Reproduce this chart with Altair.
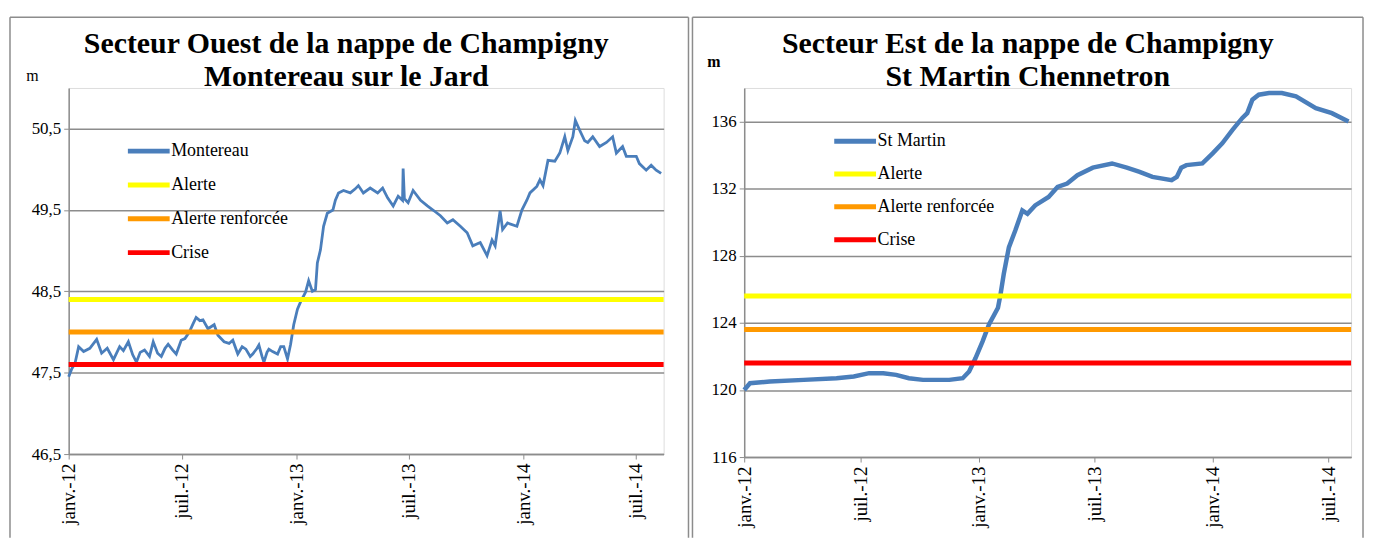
import altair as alt
import pandas as pd

# ---------------- data ----------------
ouest_dates = [
    "2012-01-01", "2012-01-06", "2012-01-11", "2012-01-17", "2012-01-25", "2012-02-04", "2012-02-15", "2012-02-23",
    "2012-03-03", "2012-03-13", "2012-03-23", "2012-03-29", "2012-04-06", "2012-04-13", "2012-04-19", "2012-04-25",
    "2012-05-02", "2012-05-10", "2012-05-16", "2012-05-23", "2012-05-29", "2012-06-04", "2012-06-09", "2012-06-16",
    "2012-06-22", "2012-06-30", "2012-07-06", "2012-07-13", "2012-07-19", "2012-07-24", "2012-07-30", "2012-08-04",
    "2012-08-12", "2012-08-22", "2012-08-28", "2012-09-07", "2012-09-15", "2012-09-21", "2012-09-29", "2012-10-06",
    "2012-10-12", "2012-10-19", "2012-10-23", "2012-10-30", "2012-11-02", "2012-11-07", "2012-11-10", "2012-11-15",
    "2012-11-18", "2012-11-24", "2012-12-02", "2012-12-07", "2012-12-12", "2012-12-18", "2012-12-23", "2012-12-28",
    "2013-01-03", "2013-01-08", "2013-01-16", "2013-01-21", "2013-01-27", "2013-02-01", "2013-02-04", "2013-02-09",
    "2013-02-14", "2013-02-20", "2013-03-01", "2013-03-05", "2013-03-10", "2013-03-18", "2013-03-29", "2013-04-06",
    "2013-04-11", "2013-04-19", "2013-04-30", "2013-05-12", "2013-05-20", "2013-05-28", "2013-06-06", "2013-06-14",
    "2013-06-21", "2013-06-22", "2013-06-24", "2013-06-30", "2013-07-08", "2013-07-20", "2013-07-31", "2013-08-09",
    "2013-08-21", "2013-09-01", "2013-09-10", "2013-09-22", "2013-10-03", "2013-10-12", "2013-10-24", "2013-11-04",
    "2013-11-12", "2013-11-17", "2013-11-25", "2013-11-29", "2013-12-07", "2013-12-22", "2013-12-30",
    "2014-01-07", "2014-01-12", "2014-01-23", "2014-01-28", "2014-02-02", "2014-02-10", "2014-02-21", "2014-03-01",
    "2014-03-09", "2014-03-14", "2014-03-22", "2014-03-26", "2014-04-02", "2014-04-10", "2014-04-15", "2014-04-23",
    "2014-05-04", "2014-05-15", "2014-05-25", "2014-05-31", "2014-06-10", "2014-06-16", "2014-07-02", "2014-07-07",
    "2014-07-18", "2014-07-26", "2014-08-03", "2014-08-11",
]
ouest_values = [
    47.45, 47.55, 47.61, 47.82, 47.76, 47.80, 47.91, 47.74,
    47.80, 47.66, 47.82, 47.77, 47.88, 47.72, 47.63, 47.75,
    47.78, 47.70, 47.88, 47.74, 47.70, 47.80, 47.85, 47.78,
    47.73, 47.90, 47.92, 48.00, 48.10, 48.18, 48.14, 48.15,
    48.04, 48.09, 47.96, 47.88, 47.86, 47.90, 47.73, 47.82,
    47.79, 47.70, 47.73, 47.80, 47.84, 47.70, 47.63, 47.75,
    47.79, 47.76, 47.73, 47.82, 47.82, 47.67, 47.85, 48.09,
    48.28, 48.37, 48.49, 48.63, 48.50, 48.52, 48.85, 49.01,
    49.30, 49.46, 49.50, 49.62, 49.71, 49.74, 49.71, 49.76,
    49.80, 49.71, 49.77, 49.71, 49.77, 49.65, 49.55, 49.67,
    49.62, 50.01, 49.64, 49.59, 49.74, 49.62, 49.55, 49.50,
    49.43, 49.34, 49.38, 49.30, 49.22, 49.06, 49.10, 48.94,
    49.13, 49.06, 49.49, 49.26, 49.34, 49.30, 49.50,
    49.62, 49.71, 49.79, 49.87, 49.80, 50.11, 50.10, 50.20,
    50.40, 50.23, 50.40, 50.60, 50.48, 50.35, 50.33, 50.40,
    50.28, 50.33, 50.40, 50.20, 50.28, 50.16, 50.16, 50.07,
    49.99, 50.05, 49.99, 49.95,
]

est_dates = [
    "2012-01-01", "2012-01-10", "2012-02-10", "2012-04-03", "2012-05-24", "2012-06-20", "2012-07-14", "2012-08-05",
    "2012-08-25", "2012-09-14", "2012-10-06", "2012-11-16", "2012-12-07", "2012-12-17", "2012-12-27",
    "2013-01-07", "2013-01-17", "2013-01-31", "2013-02-04", "2013-02-09", "2013-02-17", "2013-02-27", "2013-03-10",
    "2013-03-18", "2013-03-30", "2013-04-20", "2013-05-04", "2013-05-19", "2013-06-04", "2013-06-28", "2013-07-28",
    "2013-08-20", "2013-09-09", "2013-09-29", "2013-10-29", "2013-11-06", "2013-11-13", "2013-11-21", "2013-12-16",
    "2014-01-01", "2014-01-16", "2014-02-01", "2014-02-16", "2014-02-24", "2014-03-04", "2014-03-14", "2014-03-30",
    "2014-04-19", "2014-05-11", "2014-06-11", "2014-07-06", "2014-08-01",
]
est_values = [
    120.0, 120.4, 120.5, 120.6, 120.7, 120.8, 121.0, 121.0,
    120.9, 120.7, 120.6, 120.6, 120.7, 121.1, 121.9,
    122.9, 123.9, 124.9, 125.7, 126.9, 128.5, 129.5, 130.7,
    130.5, 131.0, 131.5, 132.1, 132.3, 132.8, 133.25, 133.5,
    133.25, 133.0, 132.7, 132.5, 132.7, 133.25, 133.4, 133.5,
    134.1, 134.7, 135.5, 136.2, 136.5, 137.3, 137.6, 137.7,
    137.7, 137.5, 136.8, 136.5, 136.0,
]

seuil_names = ["Alerte", "Alerte renforcée", "Crise"]
ouest_seuils = [48.4, 48.0, 47.6]
est_seuils = [125.6, 123.6, 121.6]

ouest_yticks = [46.5, 47.5, 48.5, 49.5, 50.5]
est_yticks = [116, 120, 124, 128, 132, 136]
tick_dates = ["2012-01-01", "2012-07-01", "2013-01-01", "2013-07-01", "2014-01-01", "2014-07-01"]

# ---------------- style ----------------
FONT = "Liberation Serif"
BLUE = "#4A7EBB"
YELLOW = "#FFFF00"
ORANGE = "#FF9900"
RED = "#FF0000"
GRID = "#8C8C8C"
FRAME = "#8C8C8C"


def ms(d):
    return int(pd.Timestamp(d, tz="UTC").value // 10**6)


def panel(dates, values, name, seuils, ydom, yticks, ylabel_expr, titles, width, height,
          frame, leg, line_w, unit, xend, title_dx):
    df = pd.DataFrame({"date": dates, "niveau": values, "serie": name})
    sdf = pd.DataFrame({"serie": seuil_names, "niveau": seuils})

    color = alt.Color(
        "serie:N",
        scale=alt.Scale(domain=[name] + seuil_names, range=[BLUE, YELLOW, ORANGE, RED]),
        legend=alt.Legend(
            title=None, orient="none", legendX=leg[0], legendY=leg[1],
            symbolType="M-2.1,0H2.1", symbolSize=400, symbolStrokeWidth=5,
            labelFont=FONT, labelFontSize=18, labelColor="black", labelOffset=10,
            rowPadding=leg[2], labelLimit=400, padding=0,
        ),
    )
    x = alt.X(
        "date:T",
        scale=alt.Scale(type="utc", domain=[ms("2012-01-01"), ms(xend)]),
        axis=alt.Axis(
            values=[ms(d) for d in tick_dates],
            labelExpr="(utcmonth(datum.value) == 0 ? 'janv.-' : 'juil.-') + utcFormat(datum.value, '%y')",
            labelAngle=270, labelAlign="right", labelBaseline="middle",
            labelFont=FONT, labelFontSize=19, labelColor="black", labelPadding=4,
            labelOverlap=False, labelFlush=False,
            grid=False, tickSize=5, tickColor=GRID, domainColor=GRID, domainWidth=1.5,
            title=None,
        ),
    )
    y = alt.Y(
        "niveau:Q",
        scale=alt.Scale(domain=ydom, nice=False, zero=False),
        axis=alt.Axis(
            values=yticks, labelExpr=ylabel_expr,
            labelFont=FONT, labelFontSize=17, labelColor="black", labelPadding=3,
            grid=True, gridColor=GRID, gridWidth=1.5,
            tickSize=5, tickColor=GRID, domainColor=GRID, domainWidth=1.5,
            title="m", titleAngle=0, titleX=unit[0], titleY=unit[1], titleAlign="center",
            titleBaseline="middle", titleFont=FONT, titleFontSize=16,
            titleFontWeight=unit[2], titleColor="black",
        ),
    )
    line = alt.Chart(df).mark_line(strokeWidth=line_w).encode(x=x, y=y, color=color)
    rules = alt.Chart(sdf).mark_rule(strokeWidth=5).encode(y=alt.Y("niveau:Q"), color=alt.Color("serie:N"))

    fx0, fx1, fy0, fy1 = frame
    fdata = alt.Data(values=[{"k": 0}])
    fl = alt.Chart(fdata).mark_rule(color=FRAME, strokeWidth=1.5).encode(
        x=alt.value(fx0), y=alt.value(fy0), y2=alt.value(fy1))
    fr = alt.Chart(fdata).mark_rule(color=FRAME, strokeWidth=1.5).encode(
        x=alt.value(fx1), y=alt.value(fy0), y2=alt.value(fy1))
    ft = alt.Chart(fdata).mark_rule(color=FRAME, strokeWidth=1.5).encode(
        x=alt.value(fx0), x2=alt.value(fx1), y=alt.value(fy0))

    return alt.layer(line, rules, fl, fr, ft).properties(
        width=width, height=height,
        title=alt.TitleParams(
            text=titles, font=FONT, fontSize=30, fontWeight="bold", lineHeight=33,
            color="black", anchor="middle", dx=title_dx, offset=-76,
        ),
    )


left = panel(
    ouest_dates, ouest_values, "Montereau", ouest_seuils, [46.5, 51.0], ouest_yticks,
    "replace(format(datum.value, '.1f'), '.', ',')",
    ["Secteur Ouest de la nappe de Champigny", "Montereau sur le Jard"],
    598, 368, (-59, 623, -71, 452), (68, 51, 11), 2.8, (-37, -12, "normal"), "2014-08-15", -20,
)
right = panel(
    est_dates, est_values, "St Martin", est_seuils, [116, 138], est_yticks,
    "format(datum.value, 'd')",
    ["Secteur Est de la nappe de Champigny", "St Martin Chennetron"],
    610, 371, (-52, 622, -71, 452), (99, 41, 10), 4.5, (-31, -27, "bold"), "2014-08-05", -20,
)

chart = alt.hconcat(left, right, spacing=0).resolve_scale(color="independent", y="independent", x="independent").properties(
    padding={"left": 0, "top": 6, "right": 0, "bottom": 0}
).configure_view(stroke="transparent").configure(font=FONT)

chart.save("out.html", embed_options={"renderer": "svg", "actions": False})
